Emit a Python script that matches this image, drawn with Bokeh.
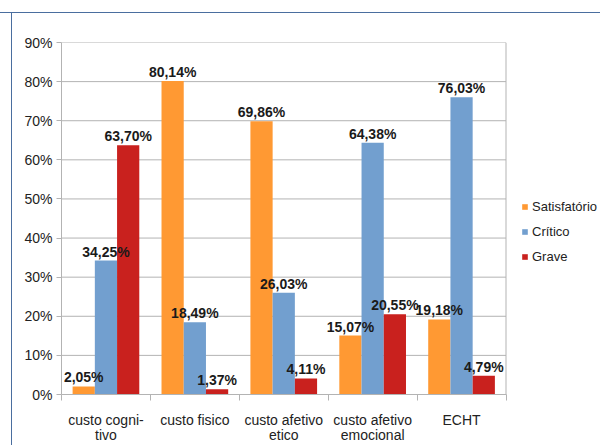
from bokeh.plotting import figure
from bokeh.models import ColumnDataSource, FixedTicker, Legend, LegendItem
from bokeh.core.properties import value
from bokeh.embed import file_html
from bokeh.resources import INLINE

categories = ["custo cogni-\ntivo", "custo fisico", "custo afetivo\netico", "custo afetivo\nemocional", "ECHT"]
series_names = ["Satisfatório", "Crítico", "Grave"]
satisfatorio = [2.05, 80.14, 69.86, 15.07, 19.18]
critico = [34.25, 18.49, 26.03, 64.38, 76.03]
grave = [63.70, 1.37, 4.11, 20.55, 4.79]
y_ticks = [0, 10, 20, 30, 40, 50, 60, 70, 80, 90]
colors = ["#ff9933", "#729fcf", "#c9211e"]

FONT = "Liberation Sans"
GRID = "#b3b3b3"
EDGE = "#4a6e9f"

W, H = 600, 445
LEFT, TOP, BOTTOM = 61, 42, 51
PLOT_RIGHT = 505.5  # right edge of the plotting area (legend sits beyond it)
n = len(categories)
x_end = n * (W - LEFT) / (PLOT_RIGHT - LEFT)

p = figure(width=W, height=H, x_range=(0, x_end), y_range=(0, 90),
           output_backend="svg", toolbar_location=None,
           min_border_left=LEFT, min_border_right=0, min_border_top=TOP, min_border_bottom=BOTTOM)
p.styles = {"background": ("linear-gradient(%s,%s) 0px 12px / 100%% 1px no-repeat, "
                           "linear-gradient(%s,%s) 11px 12px / 1px 100%% no-repeat, #ffffff")
            % (EDGE, EDGE, EDGE, EDGE)}
p.border_fill_alpha = 0
p.background_fill_color = "white"
p.outline_line_color = None
p.xgrid.grid_line_color = None
p.ygrid.grid_line_color = None

# horizontal grid lines and right edge of the plot area
p.segment(x0=0, x1=n, y0=y_ticks, y1=y_ticks, line_color=GRID, line_width=1)
p.segment(x0=n, x1=n, y0=0, y1=max(y_ticks), line_color=GRID, line_width=1)

series = [satisfatorio, critico, grave]
renderers = []
sources = []
for k, vals in enumerate(series):
    xs = [i + 0.25 * (k + 1) for i in range(n)]
    src = ColumnDataSource(dict(x=xs, top=vals,
                                lab=[("%.2f%%" % v).replace(".", ",") for v in vals]))
    sources.append(src)
    r = p.vbar(x="x", top="top", bottom=0, width=0.25, source=src,
               fill_color=colors[k], line_color=None)
    renderers.append(r)

# value labels drawn above all bars
for src in sources:
    p.text(x="x", y="top", text="lab", source=src, text_align="center",
           text_baseline="alphabetic", y_offset=-9, text_font=value(FONT),
           text_font_style="bold", text_font_size="14px", text_color="#1a1a1a")

p.xaxis.bounds = (0, n)
p.xaxis.ticker = FixedTicker(ticks=[i + 0.5 for i in range(n)],
                             minor_ticks=list(range(n + 1)))
p.xaxis.major_label_overrides = {i + 0.5: c for i, c in enumerate(categories)}
p.xaxis.major_tick_out = 0
p.xaxis.major_tick_in = 0
p.xaxis.minor_tick_out = 6
p.xaxis.minor_tick_in = 0
p.xaxis.major_label_standoff = 11
p.xaxis.major_label_text_line_height = 0.95
p.xaxis.major_label_orientation = "horizontal"

p.yaxis.ticker = FixedTicker(ticks=y_ticks)
p.yaxis.major_label_overrides = {t: "%d%%" % t for t in y_ticks}
p.yaxis.major_tick_out = 5
p.yaxis.major_tick_in = 0
p.yaxis.minor_tick_out = 0
p.yaxis.minor_tick_in = 0
p.yaxis.major_label_standoff = 4

for ax in (p.xaxis, p.yaxis):
    ax.axis_line_color = GRID
    ax.major_tick_line_color = GRID
    ax.minor_tick_line_color = GRID
    ax.major_label_text_font = FONT
    ax.major_label_text_font_size = "14px"
    ax.major_label_text_color = "#222222"

legend = Legend(items=[LegendItem(label=s, renderers=[r]) for s, r in zip(series_names, renderers)],
                location=(460, 127), glyph_width=7, glyph_height=7, label_height=21,
                spacing=4, padding=0, margin=0, label_standoff=4,
                label_text_font=FONT, label_text_font_size="13px", label_text_color="#222222",
                border_line_color=None, background_fill_alpha=0)
p.add_layout(legend, "center")

open("out.html", "w").write(file_html(p, INLINE))
